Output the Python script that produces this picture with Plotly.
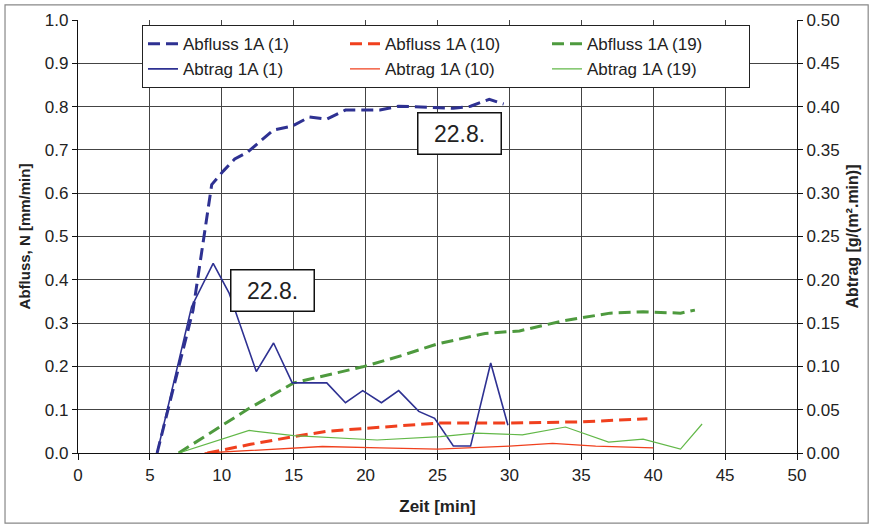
import plotly.graph_objects as go

# --- data ---
abfluss1_x = [5.5, 8.0, 9.3, 10.1, 10.9, 11.8, 13.6, 14.9, 16.1, 17.3, 18.6, 21.0, 22.3, 25.0, 26.1, 27.3, 28.6, 29.6]
abfluss1_y = [0.0, 0.33, 0.62, 0.651, 0.679, 0.695, 0.746, 0.755, 0.776, 0.771, 0.792, 0.792, 0.801, 0.797, 0.796, 0.801, 0.817, 0.806]

abfluss10_x = [9.0, 12.0, 15.0, 17.3, 20.0, 22.5, 25.0, 30.0, 35.0, 39.6]
abfluss10_y = [0.0, 0.02, 0.038, 0.050, 0.057, 0.063, 0.069, 0.069, 0.072, 0.079]

abfluss19_x = [7.0, 11.8, 15.0, 17.5, 19.8, 22.5, 25.0, 28.3, 30.7, 33.7, 37.0, 39.3, 41.9, 42.9]
abfluss19_y = [0.0, 0.101, 0.162, 0.182, 0.199, 0.225, 0.252, 0.276, 0.282, 0.305, 0.323, 0.326, 0.323, 0.330]

abtrag1_x = [5.5, 7.9, 9.4, 10.5, 12.4, 13.6, 14.9, 17.3, 18.6, 19.8, 21.1, 22.3, 23.7, 24.8, 26.1, 27.3, 28.7, 29.9]
abtrag1_y = [0.0, 0.169, 0.219, 0.185, 0.094, 0.127, 0.081, 0.081, 0.058, 0.072, 0.058, 0.072, 0.048, 0.040, 0.008, 0.008, 0.104, 0.032]

abtrag10_x = [8.8, 12.0, 17.0, 21.0, 25.0, 30.0, 33.0, 36.0, 40.0]
abtrag10_y = [0.0, 0.003, 0.0075, 0.006, 0.0045, 0.008, 0.011, 0.008, 0.006]

abtrag19_x = [7.0, 11.9, 15.0, 17.5, 20.8, 25.2, 27.7, 30.9, 33.9, 36.9, 39.3, 41.9, 43.4]
abtrag19_y = [0.0, 0.026, 0.020, 0.018, 0.015, 0.019, 0.023, 0.021, 0.030, 0.0125, 0.016, 0.0045, 0.0335]

x_ticks = [0, 5, 10, 15, 20, 25, 30, 35, 40, 45, 50]
label_date = "22.8."

BLUE = "#2E3192"
RED = "#F0401E"
GREEN_D = "#4E9A3E"
GREEN_S = "#62B848"
FONT = "Arial, Liberation Sans, sans-serif"
DASH = "12px,6px"

fig = go.Figure()
fig.add_trace(go.Scatter(x=abfluss1_x, y=abfluss1_y, mode="lines", name="Abfluss 1A (1)",
                         line=dict(color=BLUE, width=3, dash=DASH)))
fig.add_trace(go.Scatter(x=abfluss10_x, y=abfluss10_y, mode="lines", name="Abfluss 1A (10)",
                         line=dict(color=RED, width=3, dash=DASH)))
fig.add_trace(go.Scatter(x=abfluss19_x, y=abfluss19_y, mode="lines", name="Abfluss 1A (19)",
                         line=dict(color=GREEN_D, width=3, dash=DASH)))
fig.add_trace(go.Scatter(x=abtrag1_x, y=abtrag1_y, mode="lines", name="Abtrag 1A (1)", yaxis="y2",
                         line=dict(color=BLUE, width=1.6)))
fig.add_trace(go.Scatter(x=abtrag10_x, y=abtrag10_y, mode="lines", name="Abtrag 1A (10)", yaxis="y2",
                         line=dict(color=RED, width=1.3)))
fig.add_trace(go.Scatter(x=abtrag19_x, y=abtrag19_y, mode="lines", name="Abtrag 1A (19)", yaxis="y2",
                         line=dict(color=GREEN_S, width=1.2)))

ann_box = dict(showarrow=False, xref="x", yref="y", text=label_date,
               font=dict(family=FONT, size=23, color="#222"),
               bgcolor="white", bordercolor="#111", borderwidth=1.5, borderpad=2,
               width=78, height=36)

fig.update_layout(
    width=875, height=527,
    margin=dict(l=78, r=78, t=20, b=74),
    paper_bgcolor="white", plot_bgcolor="white",
    font=dict(family=FONT, size=17, color="#222"),
    showlegend=True,
    legend=dict(orientation="h", x=0.089, y=0.988, xanchor="left", yanchor="top",
                bgcolor="white", bordercolor="#222", borderwidth=1,
                font=dict(family=FONT, size=17, color="#222"),
                entrywidth=157, entrywidthmode="pixels", tracegroupgap=0),
    xaxis=dict(range=[0, 50], tickvals=x_ticks, showgrid=True, gridcolor="#444", gridwidth=1,
               showline=True, linecolor="#111", linewidth=1.2, ticks="outside", ticklen=6,
               tickcolor="#111", zeroline=False,
               title=dict(text="<b>Zeit [min]</b>", font=dict(size=17), standoff=16)),
    yaxis=dict(range=[0, 1.0], dtick=0.1, tickformat=".1f", showgrid=True, gridcolor="#444",
               gridwidth=1, showline=True, linecolor="#111", linewidth=1.2, ticks="outside",
               ticklen=5, tickcolor="#111", zeroline=False,
               title=dict(text="<b>Abfluss, N [mm/min]</b>", font=dict(size=15), standoff=10)),
    yaxis2=dict(range=[0, 0.5], dtick=0.05, tickformat=".2f", overlaying="y", side="right",
                showgrid=False, showline=True, linecolor="#111", linewidth=1.2, ticks="outside",
                ticklen=5, tickcolor="#111", zeroline=False,
                title=dict(text="<b>Abtrag [g/(m².min)]</b>", font=dict(size=16), standoff=8)),
    annotations=[dict(ann_box, x=26.56, y=0.737), dict(ann_box, x=13.56, y=0.376)],
    shapes=[dict(type="rect", xref="paper", yref="paper", x0=-0.1015, x1=1.099,
                 y0=-0.162, y1=1.035, line=dict(color="#888", width=1.2), layer="below")],
)

fig.write_html("out.html")
